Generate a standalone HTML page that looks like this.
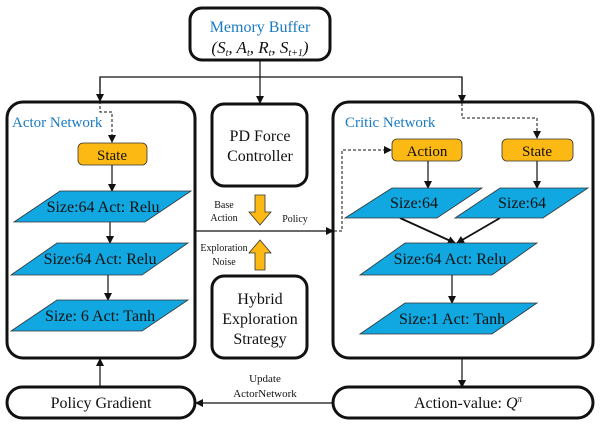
<!DOCTYPE html>
<html><head><style>body{margin:0;background:#fff}svg{display:block}svg text{font-family:"Liberation Serif","DejaVu Serif",serif}</style></head><body>
<svg width="600" height="426" viewBox="0 0 600 426" xmlns="http://www.w3.org/2000/svg">
<defs>
<marker id="a" markerWidth="8" markerHeight="8" refX="7" refY="4" orient="auto" markerUnits="userSpaceOnUse"><path d="M0,0 L8,4 L0,8 z" fill="#111"/></marker>
</defs>
<g fill="none" stroke="#111" stroke-width="3">
<rect x="190" y="8" width="140" height="52" rx="12"/>
<rect x="7" y="102" width="188" height="256" rx="16"/>
<rect x="212" y="104" width="95" height="82" rx="12"/>
<rect x="212" y="276" width="95" height="82" rx="12"/>
<rect x="333" y="102" width="260" height="256" rx="16"/>
<rect x="7" y="387" width="188" height="31" rx="15.5"/>
<rect x="333" y="387" width="260" height="31" rx="15.5"/>
</g>
<g stroke="#111" stroke-width="1.2" fill="none">
<line x1="260" y1="60" x2="260" y2="103" marker-end="url(#a)"/>
<polyline points="100,100 100,77 462,77 462,102" />
<line x1="100" y1="77" x2="100" y2="101" marker-end="url(#a)"/>
<line x1="462" y1="77" x2="462" y2="102" marker-end="url(#a)"/>
<line x1="112" y1="165" x2="112" y2="191" marker-end="url(#a)"/>
<line x1="110" y1="222" x2="110" y2="243" marker-end="url(#a)"/>
<line x1="108" y1="275" x2="108" y2="300" marker-end="url(#a)"/>
<line x1="196" y1="231" x2="333" y2="231" marker-end="url(#a)"/>
<line x1="428" y1="161" x2="428" y2="188" marker-end="url(#a)"/>
<line x1="537" y1="161" x2="537" y2="188" marker-end="url(#a)"/>
<line x1="400" y1="218" x2="455" y2="243" stroke-width="1.8" marker-end="url(#a)"/>
<line x1="500" y1="218" x2="457" y2="243" stroke-width="1.8" marker-end="url(#a)"/>
<line x1="452" y1="275" x2="452" y2="303" marker-end="url(#a)"/>
<line x1="462" y1="358" x2="462" y2="387" marker-end="url(#a)"/>
<line x1="333" y1="403" x2="196" y2="403" marker-end="url(#a)"/>
<line x1="100" y1="387" x2="100" y2="359" marker-end="url(#a)"/>
</g>
<g stroke="#111" stroke-width="1" fill="none" stroke-dasharray="3,2">
<polyline points="100,101 100,112 112,112 112,142" marker-end="url(#a)"/>
<polyline points="462,103 462,118 537,118 537,138" marker-end="url(#a)"/>
<polyline points="334,231 342,231 342,150 391,150" marker-end="url(#a)"/>
</g>
<g fill="#FDB913" stroke="#333" stroke-width="0.8">
<rect x="78" y="143" width="69" height="22" rx="5"/>
<rect x="392" y="139" width="70" height="22" rx="5"/>
<rect x="502" y="139" width="71" height="22" rx="5"/>
<path d="M255,195 h10 v17 h6 l-11,13 l-11,-13 h6 z"/>
<path d="M255,270 h10 v-17 h6 l-11,-13 l-11,13 h6 z"/>
</g>
<g fill="#11A7E0" stroke="#333" stroke-width="0.8">
<polygon points="60,191 191,191 145,222 14,222"/>
<polygon points="57,243 188,243 142,275 11,275"/>
<polygon points="57,300 188,300 142,331 11,331"/>
<polygon points="392,188 482,188 437,218 345,218"/>
<polygon points="500,188 588,188 543,218 455,218"/>
<polygon points="405,243 537,243 492,275 360,275"/>
<polygon points="405,303 537,303 492,334 360,334"/>
</g>
<g fill="#111" text-anchor="middle">
<text x="260" y="32" font-size="16" fill="#1a7bc0">Memory Buffer</text>
<text x="260" y="53" font-size="17" font-style="italic">(S<tspan font-size="10" dy="3">t</tspan><tspan dy="-3">, A</tspan><tspan font-size="10" dy="3">t</tspan><tspan dy="-3">, R</tspan><tspan font-size="10" dy="3">t</tspan><tspan dy="-3">, S</tspan><tspan font-size="10" dy="3">t+1</tspan><tspan dy="-3">)</tspan></text>
<text x="112" y="160" font-size="15">State</text>
<text x="427" y="156" font-size="15">Action</text>
<text x="537" y="156" font-size="15">State</text>
<text x="103" y="212" font-size="16">Size:64 Act: Relu</text>
<text x="100" y="264" font-size="16">Size:64 Act: Relu</text>
<text x="100" y="321" font-size="16">Size: 6  Act: Tanh</text>
<text x="414" y="208" font-size="16">Size:64</text>
<text x="522" y="208" font-size="16">Size:64</text>
<text x="450" y="264" font-size="16">Size:64 Act: Relu</text>
<text x="452" y="324" font-size="16">Size:1 Act: Tanh</text>
<text x="260" y="141" font-size="16">PD Force</text>
<text x="260" y="161" font-size="16">Controller</text>
<text x="260" y="304" font-size="16">Hybrid</text>
<text x="260" y="324" font-size="16">Exploration</text>
<text x="260" y="344" font-size="16">Strategy</text>
<text x="224" y="208" font-size="10">Base</text>
<text x="224" y="221" font-size="10">Action</text>
<text x="295" y="222" font-size="10">Policy</text>
<text x="224" y="251" font-size="10">Exploration</text>
<text x="224" y="265" font-size="10">Noise</text>
<text x="265" y="382" font-size="11">Update</text>
<text x="265" y="397" font-size="11">ActorNetwork</text>
<text x="101" y="408" font-size="16">Policy Gradient</text>
<text x="468" y="408" font-size="16">Action-value:  <tspan font-style="italic">Q</tspan><tspan font-size="9" dy="-6" font-style="italic">π</tspan></text>
</g>
<g fill="#1a7bc0" font-size="15">
<text x="12" y="127">Actor Network</text>
<text x="345" y="127">Critic Network</text>
</g>
</svg>
</body></html>
